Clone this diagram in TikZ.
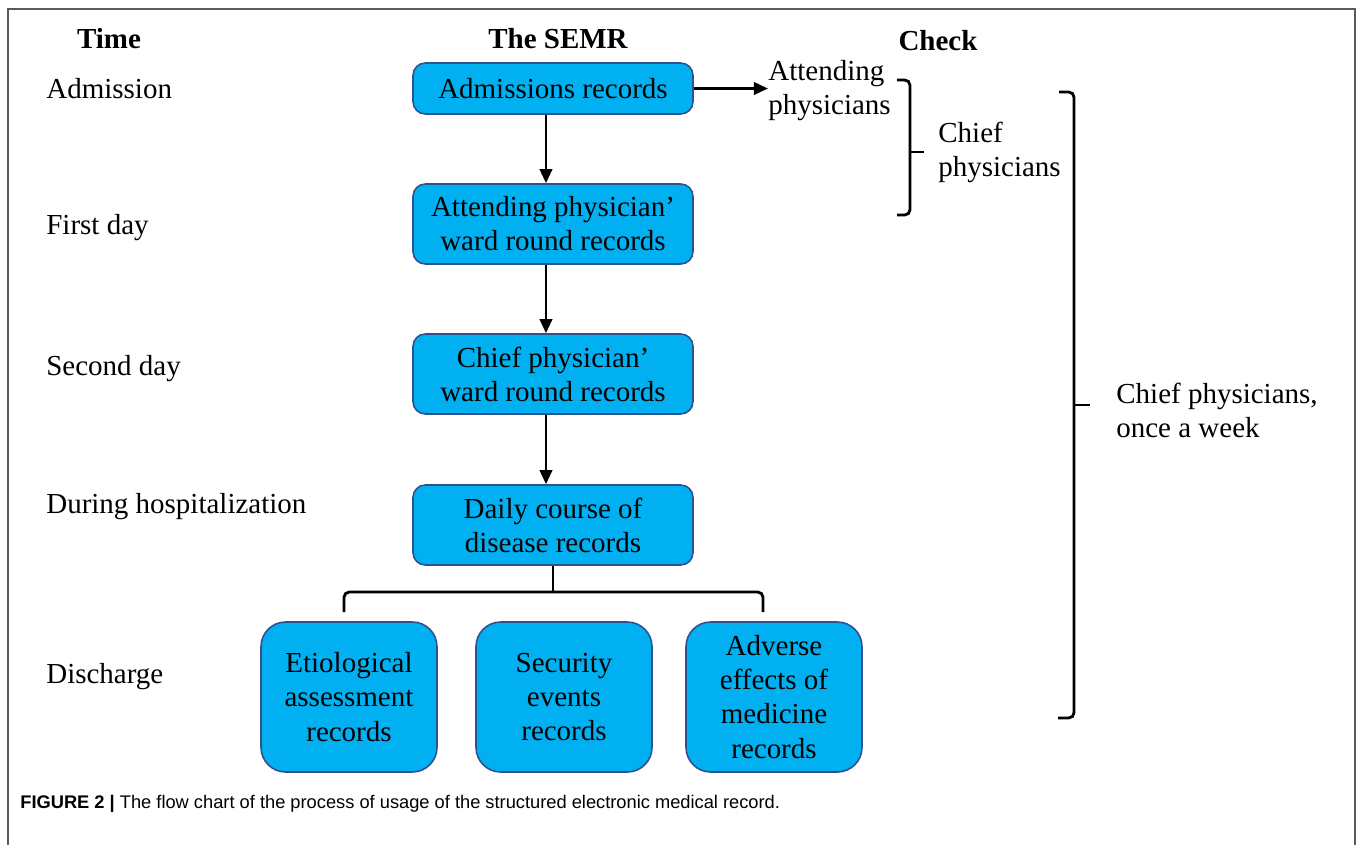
\documentclass[tikz,border=0pt]{standalone}
\usepackage{fontspec}
\setmainfont{Liberation Serif}
\newfontfamily\capfont{Liberation Sans}
\usetikzlibrary{arrows.meta}

\definecolor{boxfill}{HTML}{00B0F0}
\definecolor{boxline}{HTML}{2F528F}
\definecolor{framegray}{HTML}{5A5A5A}

\tikzset{
  rec/.style={draw=boxline, fill=boxfill, line width=0.9pt, rounded corners=7pt,
    align=center, minimum width=5.6cm, inner sep=0pt},
  bigrec/.style={rec, rounded corners=14pt, minimum width=3.52cm, minimum height=3cm},
  lbl/.style={anchor=west, inner sep=0pt},
  head/.style={font=\fontsize{16.5}{19.4}\selectfont\bfseries},
  flow/.style={-{Triangle[length=8pt,width=7pt]}, line width=1.6pt},
  brace/.style={line width=1.6pt, rounded corners=3pt},
}

\begin{document}
\begin{tikzpicture}[x=0.02cm, y=-0.02cm, font=\fontsize{16.5}{19.4}\selectfont]
    \useasboundingbox (0,0) rectangle (1358,845);
    \draw[framegray, line width=1pt] (8,845) -- (8,9) -- (1355,9) -- (1355,845);

    % column heads
    \node[head] (htime) at (109,39) {Time};
    \node[head] (hsemr) at (558,39) {The SEMR};
    \node[head] (hcheck) at (938,41) {Check};

    % time column
    \node[lbl] (tadm) at (46,89) {Admission};
    \node[lbl] (tfirst) at (46,228) {First day};
    \node[lbl] (tsecond) at (46,369) {Second day};
    \node[lbl] (tduring) at (46,507) {During hospitalization};
    \node[lbl] (tdis) at (46,677) {Discharge};

    % records
    \node[rec, minimum height=1.02cm] (adm) at (553,88.5) {Admissions records};
    \node[rec, minimum height=1.6cm] (att) at (553,224) {Attending physician'\\ward round records};
    \node[rec, minimum height=1.6cm] (chf) at (553,374) {Chief physician'\\ward round records};
    \node[rec, minimum height=1.6cm] (daily) at (553,525) {Daily course of\\disease records};
    \node[bigrec] (etio) at (349,697) {Etiological\\assessment\\records};
    \node[bigrec] (sec) at (564,697) {Security\\events\\records};
    \node[bigrec] (adv) at (774,697) {Adverse\\effects of\\medicine\\records};

    \draw[flow] ([xshift=-4]adm.south) -- ([xshift=-4]att.north);
    \draw[flow] ([xshift=-4]att.south) -- ([xshift=-4]chf.north);
    \draw[flow] ([xshift=-4]chf.south) -- ([xshift=-4]daily.north);

    \coordinate (fork) at (553,592);
    \draw[brace] (daily.south) -- (fork);
    \draw[brace] (344,612) -- (344,592) -- (fork) -- (763,592) -- (763,612);

    % check column
    \node[lbl, align=left] (cattend) at (768,91) {Attending\\physicians};
    \draw[flow] (adm.east) -- (adm.east -| cattend.west);
    \draw[brace] (897,80) -- (910,80) -- (910,215) -- (897,215);
    \draw[brace] (910,152) -- (924,152);
    \node[lbl, align=left] (cchief) at (938,152) {Chief\\physicians};

    \draw[brace] (1059,92) -- (1074,92) -- (1074,718) -- (1058,718);
    \draw[brace] (1074,405) -- (1090,405);
    \node[lbl, align=left] (cweek) at (1116,410) {Chief physicians,\\once a week};

    % caption
    \node[lbl, font=\capfont\fontsize{10.4}{12}\selectfont] (cap) at (20,804)
      {\textbf{FIGURE 2 |} The flow chart of the process of usage of the structured electronic medical record.};
\end{tikzpicture}
\end{document}
